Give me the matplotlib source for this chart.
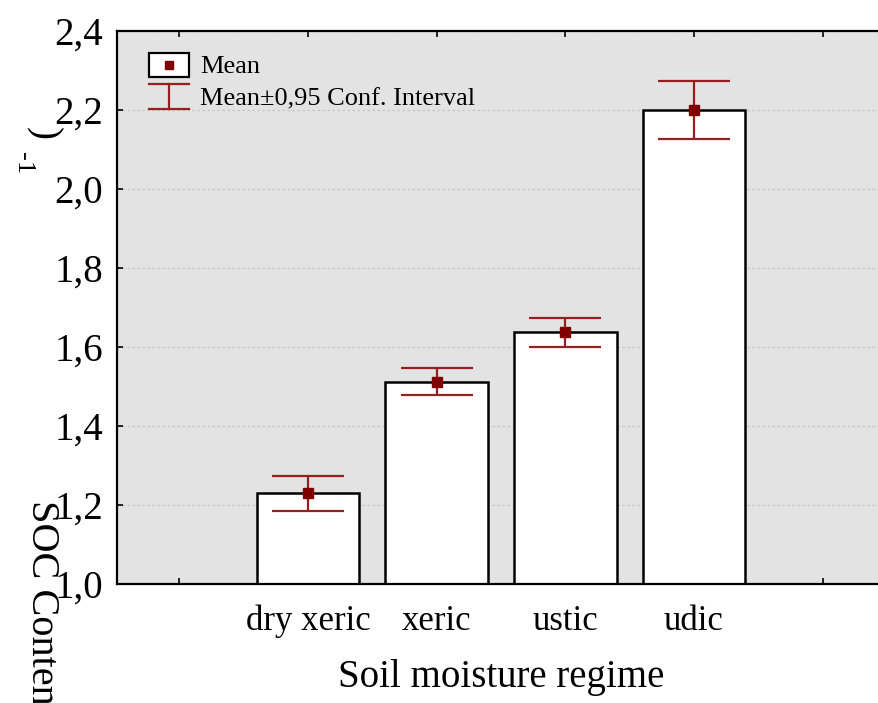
import matplotlib
matplotlib.use('Agg')
import matplotlib.pyplot as plt
from matplotlib.lines import Line2D
from matplotlib.patches import Rectangle
import numpy as np

# ---- data ----
categories = ['dry xeric', 'xeric', 'ustic', 'udic']
means = [1.230, 1.512, 1.637, 2.200]
ci_low = [1.184, 1.479, 1.601, 2.127]
ci_high = [1.274, 1.547, 1.674, 2.274]
y_ticks = [1.0, 1.2, 1.4, 1.6, 1.8, 2.0, 2.2, 2.4]
y_tick_labels = ['1,0', '1,2', '1,4', '1,6', '1,8', '2,0', '2,2', '2,4']
x_label = 'Soil moisture regime'
legend_labels = ['Mean', 'Mean\u00b10,95 Conf. Interval']

plt.rcParams['font.family'] = ['Liberation Serif', 'DejaVu Serif']

W, H = 879, 703
fig = plt.figure(figsize=(W / 100, H / 100), dpi=100)


def px(x, y):
    return (x / W, 1 - y / H)


ax_left, ax_right, ax_top, ax_bottom = 117, 885, 31, 584
ax = fig.add_axes([ax_left / W, 1 - ax_bottom / H,
                   (ax_right - ax_left) / W, (ax_bottom - ax_top) / H])
ax.set_facecolor('#e3e3e3')

pos = np.arange(1, len(categories) + 1)
m = np.array(means)
lo = np.array(ci_low)
hi = np.array(ci_high)

ax.bar(pos, m, width=0.8, color='white', edgecolor='black', linewidth=1.8, zorder=2)
ax.errorbar(pos, m, yerr=[m - lo, hi - m], fmt='none', ecolor='#961f1f',
            elinewidth=1.6, capsize=26, capthick=1.6, zorder=3)
ax.plot(pos, m, linestyle='none', marker='s', markersize=7,
        color='#800000', zorder=4)

ax.set_xlim(-0.485, 5.485)
ax.set_ylim(1.0, 2.4)
ax.set_yticks(y_ticks)
ax.set_yticklabels(y_tick_labels, fontsize=28)
ax.set_xticks(range(0, len(categories) + 2))
ax.set_xticklabels([''] + categories + [''], fontsize=25)
ax.tick_params(axis='x', direction='in', top=True, length=4, width=1.2, pad=15)
ax.tick_params(axis='y', direction='in', right=False, length=4, width=1.2, pad=10)
ax.set_xlabel(x_label, fontsize=28, labelpad=15)

ax.yaxis.grid(True, linestyle=(0, (2, 2)), color='#c4c4c4', linewidth=0.9)
ax.set_axisbelow(True)
for s in ['left', 'bottom', 'top']:
    ax.spines[s].set_linewidth(1.6)
ax.spines['right'].set_visible(False)

# ---- legend (drawn manually) ----
x0, x1 = 148.7, 188.7
xc = (x0 + x1) / 2
rx, ry = px(x0, 76.7)
rw = (x1 - x0) / W
rh = (76.7 - 53.3) / H
fig.add_artist(Rectangle((rx, ry), rw, rh, transform=fig.transFigure,
                         facecolor='white', edgecolor='black', linewidth=1.6, zorder=5))
fig.add_artist(Line2D([px(xc, 65)[0]], [px(xc, 65)[1]], transform=fig.transFigure,
                      marker='s', markersize=6, color='#800000', linestyle='none', zorder=6))
fig.text(*px(200, 67), legend_labels[0], fontsize=19, ha='left', va='center')
for yy in (84.3, 109):
    fig.add_artist(Line2D([px(x0, yy)[0], px(x1, yy)[0]], [px(x0, yy)[1]] * 2,
                          transform=fig.transFigure, color='#961f1f', linewidth=1.6, zorder=5))
fig.add_artist(Line2D([px(xc, 84.3)[0]] * 2, [px(xc, 84.3)[1], px(xc, 109)[1]],
                      transform=fig.transFigure, color='#961f1f', linewidth=1.6, zorder=5))
fig.text(*px(200, 99), legend_labels[1], fontsize=19, ha='left', va='center')

# ---- y label (as rendered in the source, partly clipped) ----
fig.text(*px(32, 500), 'SOC Content', rotation=270, rotation_mode='anchor',
         ha='left', va='baseline', fontsize=29)
fig.text(*px(33, 127), ')', rotation=270, rotation_mode='anchor',
         ha='left', va='baseline', fontsize=28)
fig.text(*px(17, 152), '-1', rotation=270, rotation_mode='anchor',
         ha='left', va='baseline', fontsize=19)

fig.savefig('out.png', dpi=100)
